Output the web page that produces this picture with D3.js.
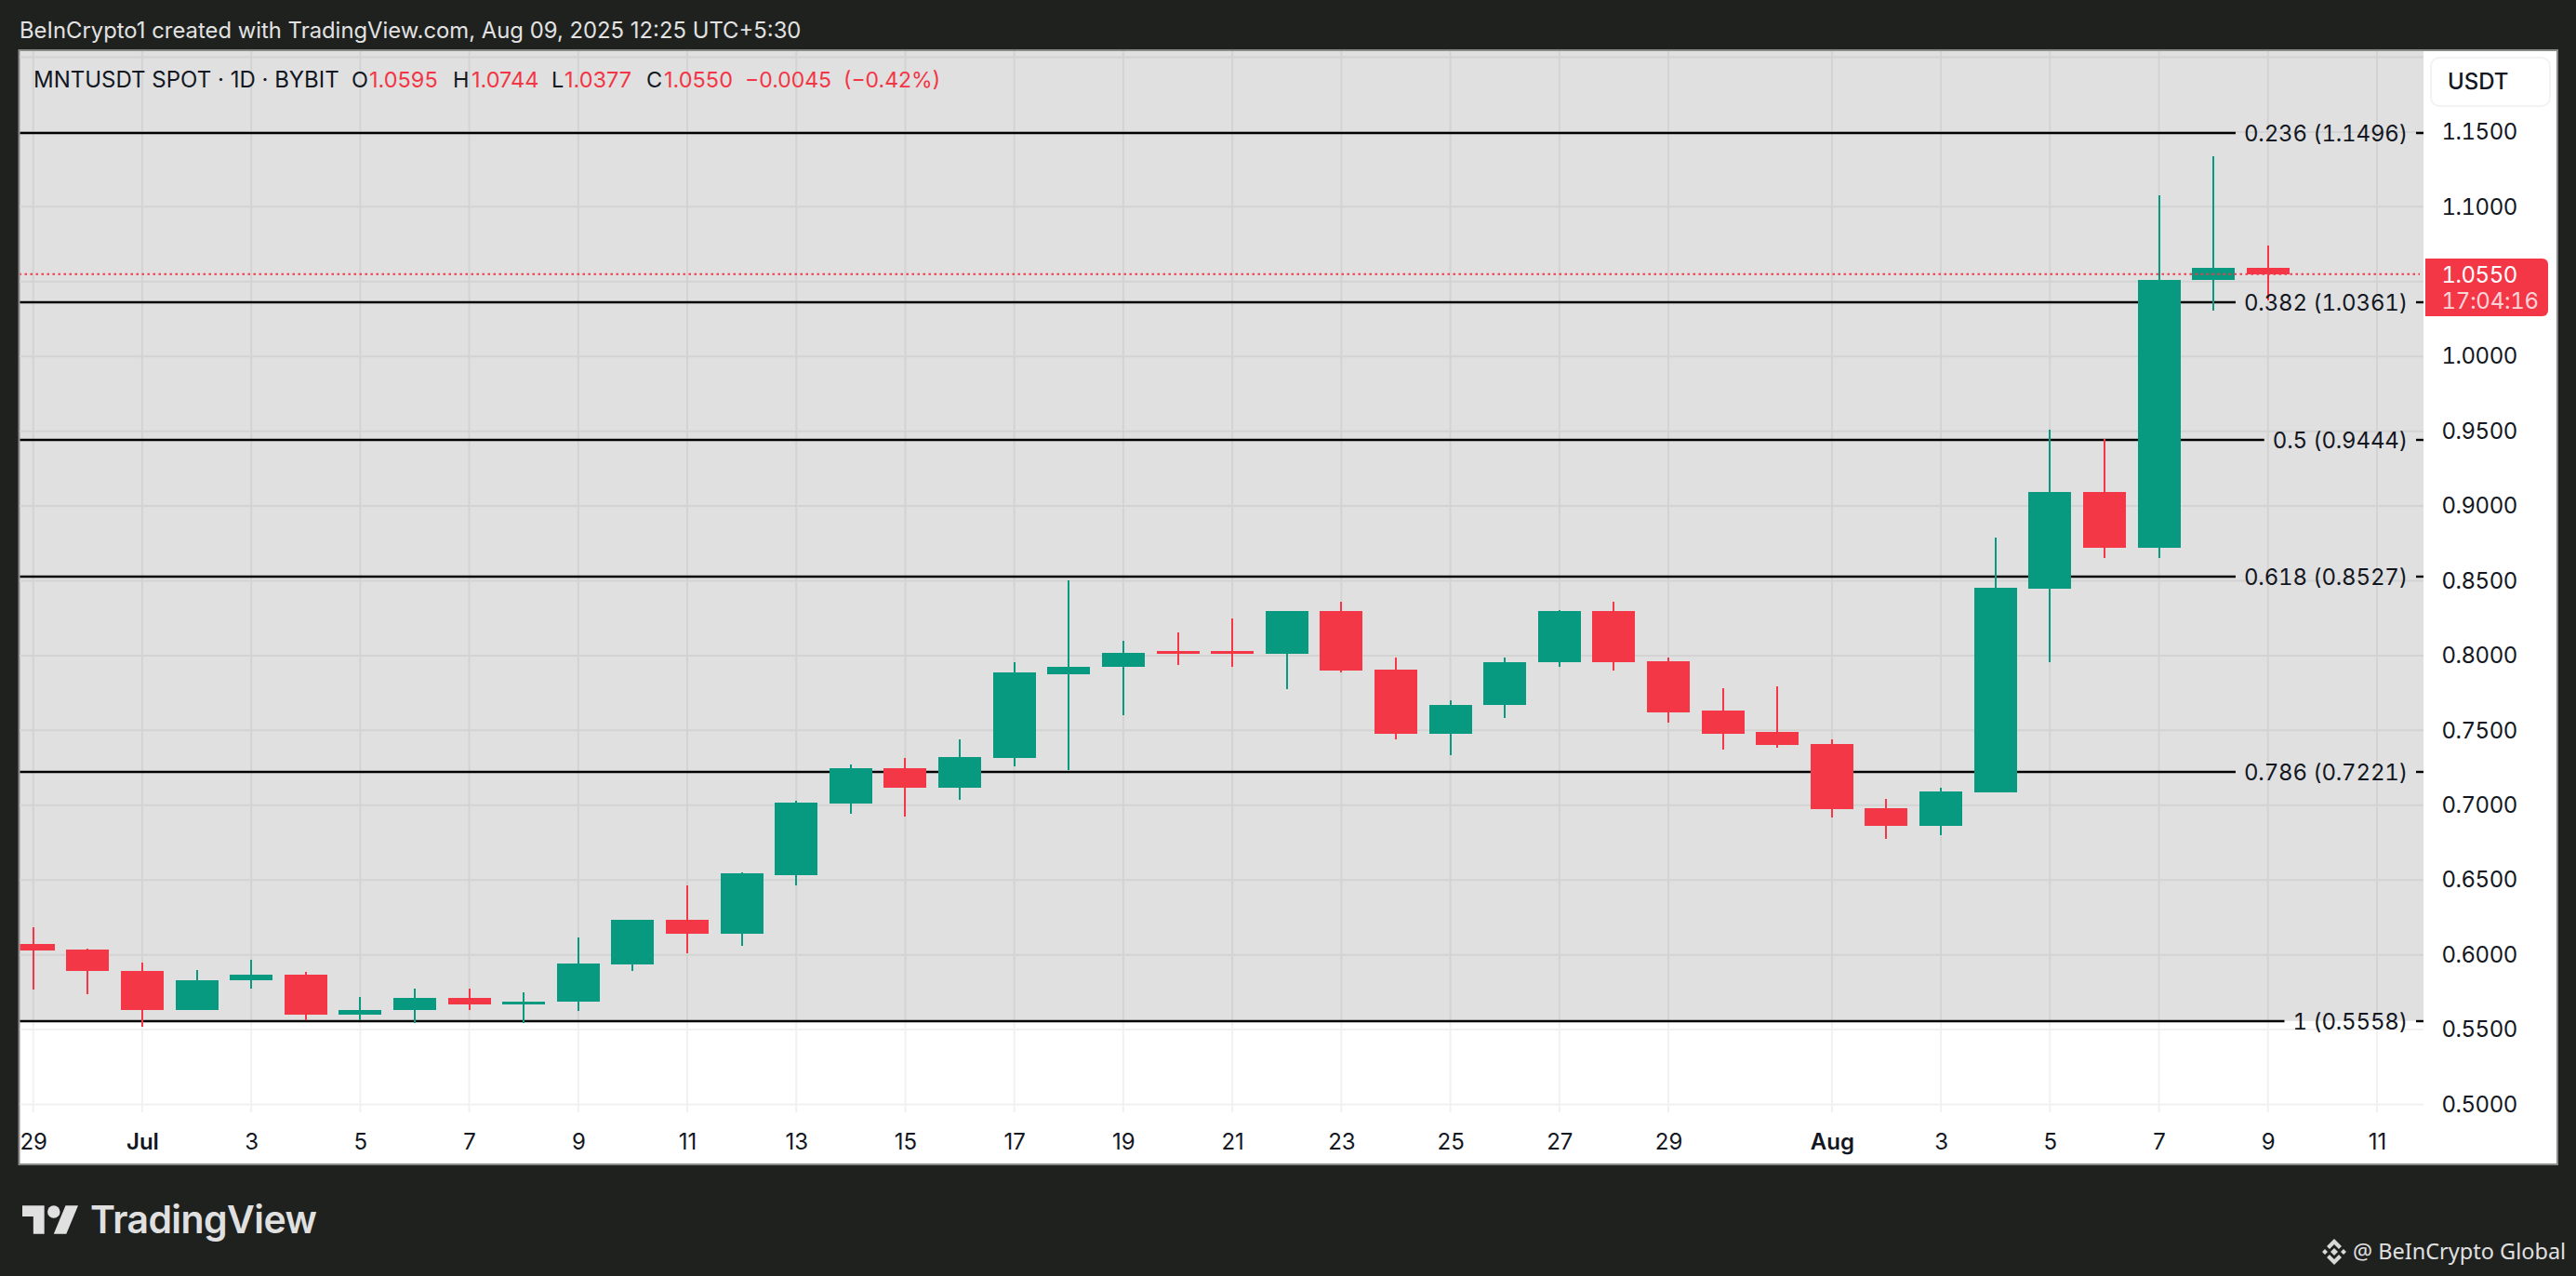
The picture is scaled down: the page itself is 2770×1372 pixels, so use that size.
<!DOCTYPE html>
<html><head><meta charset="utf-8">
<script src="https://cdnjs.cloudflare.com/ajax/libs/d3/7.9.0/d3.min.js"></script>
<style>html,body{margin:0;padding:0;background:#1f211f}svg{display:block}text{font-family:Inter,"Noto Sans",sans-serif}.tn{font-variant-numeric:tabular-nums;font-feature-settings:"tnum" 1}</style>
</head><body><svg id="c" width="2770" height="1372"></svg>
<script>
const candleDates=["2025-06-29","2025-06-30","2025-07-01","2025-07-02","2025-07-03","2025-07-04","2025-07-05","2025-07-06","2025-07-07","2025-07-08","2025-07-09","2025-07-10","2025-07-11","2025-07-12","2025-07-13","2025-07-14","2025-07-15","2025-07-16","2025-07-17","2025-07-18","2025-07-19","2025-07-20","2025-07-21","2025-07-22","2025-07-23","2025-07-24","2025-07-25","2025-07-26","2025-07-27","2025-07-28","2025-07-29","2025-07-30","2025-07-31","2025-08-01","2025-08-02","2025-08-03","2025-08-04","2025-08-05","2025-08-06","2025-08-07","2025-08-08","2025-08-09"];
const opens=[.6075,.6032,.5895,.5628,.5827,.5870,.5603,.5628,.5709,.5671,.5684,.5933,.6237,.6138,.6535,.7014,.7250,.7114,.7313,.7878,.7922,.8028,.8028,.8009,.8295,.7909,.7480,.7667,.7953,.8295,.7965,.7630,.7487,.7406,.6977,.6859,.7083,.8450,.9091,.8718,1.0508,1.0595];
const closes=[.6026,.5889,.5628,.5833,.5870,.5603,.5634,.5709,.5671,.5690,.5939,.6237,.6138,.6542,.7020,.7250,.7114,.7319,.7885,.7928,.8021,.8015,.8015,.8295,.7903,.7480,.7673,.7959,.8295,.7959,.7623,.7480,.7400,.6971,.6859,.7089,.8456,.9091,.8718,1.0514,1.0595,1.0550];
const highs=[.6187,.6044,.5945,.5901,.5964,.5883,.5715,.5771,.5771,.5752,.6113,.6237,.6461,.6548,.7027,.7275,.7313,.7437,.7953,.8506,.8102,.8152,.8251,.8295,.8363,.7990,.7704,.7990,.8307,.8363,.7990,.7779,.7797,.7443,.7045,.7114,.8792,.9513,.9451,1.1074,1.1335,1.0744];
const lows=[.5765,.5734,.5522,.5628,.5771,.5560,.5560,.5541,.5628,.5541,.5622,.5895,.6013,.6063,.6467,.6940,.6921,.7033,.7257,.7238,.7599,.7940,.7922,.7773,.7885,.7443,.7337,.7580,.7928,.7897,.7549,.7369,.7387,.6915,.6772,.6797,.7083,.7953,.8655,.8655,1.0309,1.0377];
const fibRatios=["0.236","0.382","0.5","0.618","0.786","1"];
const fibPrices=[1.1496,1.0361,.9444,.8527,.7221,.5558];
const priceTicks=[1.15,1.10,1.00,.95,.90,.85,.80,.75,.70,.65,.60,.55,.50];
const gridPrices=[1.20,1.15,1.10,1.05,1.00,.95,.90,.85,.80,.75,.70,.65,.60,.55,.50];
const dateTicks=["2025-06-29","2025-07-01","2025-07-03","2025-07-05","2025-07-07","2025-07-09","2025-07-11","2025-07-13","2025-07-15","2025-07-17","2025-07-19","2025-07-21","2025-07-23","2025-07-25","2025-07-27","2025-07-29","2025-08-01","2025-08-03","2025-08-05","2025-08-07","2025-08-09","2025-08-11"];
const lastPrice=1.0550, countdown="17:04:16";
const legendParts=[["MNTUSDT SPOT · 1D · BYBIT",36,"#131722",24],["O",378,"#131722",23.5],["1.0595",397,"#f23645",23.5],["H",487,"#131722",23.5],["1.0744",507,"#f23645",23.5],["L",593,"#131722",23.5],["1.0377",607,"#f23645",23.5],["C",695,"#131722",23.5],["1.0550",714,"#f23645",23.5],["−0.0045",801,"#f23645",23],["(−0.42%)",907,"#f23645",23]];

const UP="#089981",DOWN="#f43747",TXT="#131722";
const P={l:20.5,r:2606,t:55,b:1252,outerR:2750};
const pd=d3.utcParse("%Y-%m-%d");
const x=d3.scaleUtc().domain([pd("2025-06-29"),pd("2025-08-11")]).range([35.7,2556]);
const y=d3.scaleLinear().domain([.5,1.2]).range([1187.5,61.5]);
const svg=d3.select("#c");
svg.append("rect").attr("width",2770).attr("height",1372).attr("fill","#1f211f");
svg.append("text").attr("x",21).attr("y",41).attr("fill","#e2e2e2").attr("font-size",23.85)
  .text("BeInCrypto1 created with TradingView.com, Aug 09, 2025 12:25 UTC+5:30");
svg.append("rect").attr("x",P.l).attr("y",P.t-1).attr("width",P.outerR-P.l).attr("height",P.b-P.t+1)
  .attr("fill","#fff").attr("stroke","#8a8a8a").attr("stroke-width",2);
svg.append("clipPath").attr("id","plot").append("rect").attr("x",P.l+1).attr("y",P.t).attr("width",P.r-P.l-1).attr("height",P.b-P.t);
const plot=svg.append("g").attr("clip-path","url(#plot)");
// grid
plot.append("g").selectAll("line").data(gridPrices).join("line")
  .attr("x1",P.l).attr("x2",P.r).attr("y1",d=>y(d)).attr("y2",d=>y(d)).attr("stroke","#f1f1f1").attr("stroke-width",2);
plot.append("g").selectAll("line").data(dateTicks).join("line")
  .attr("x1",d=>x(pd(d))).attr("x2",d=>x(pd(d))).attr("y1",P.t).attr("y2",1196).attr("stroke","#f1f1f1").attr("stroke-width",2);
// fib fill
plot.append("rect").attr("x",P.l).attr("y",P.t).attr("width",P.r-P.l).attr("height",y(fibPrices[5])-P.t).attr("fill","rgba(0,0,0,0.12)");
// fib labels and lines
const fibG=plot.append("g");
const labelRight=2589;
fibPrices.forEach((p,i)=>{
  const yy=Math.round(y(p));
  const t=svg.append("text").attr("class","tn").attr("x",labelRight).attr("y",yy).attr("dy","0.36em").attr("text-anchor","end").attr("font-size",24).attr("letter-spacing",-.15).attr("fill",TXT).text(`${fibRatios[i]} (${p.toFixed(4)})`);
  const w=t.node().getComputedTextLength();
  fibG.append("line").attr("x1",P.l).attr("x2",labelRight-w-9).attr("y1",yy).attr("y2",yy).attr("stroke","#000").attr("stroke-width",2.4);
  fibG.append("line").attr("x1",labelRight+9).attr("x2",P.r).attr("y1",yy).attr("y2",yy).attr("stroke","#000").attr("stroke-width",2.4);
});
// candles
const idx=d3.range(candleDates.length);
const col=i=>closes[i]>=opens[i]?UP:DOWN;
plot.append("g").selectAll("rect").data(idx).join("rect")
  .attr("x",i=>Math.round(x(pd(candleDates[i])))-1).attr("width",2.2)
  .attr("y",i=>y(highs[i])).attr("height",i=>y(lows[i])-y(highs[i])).attr("fill",col).attr("shape-rendering","crispEdges");
plot.append("g").selectAll("rect").data(idx).join("rect")
  .attr("x",i=>Math.round(x(pd(candleDates[i])))-23).attr("width",46)
  .attr("y",i=>y(Math.max(opens[i],closes[i]))).attr("height",i=>Math.max(2,Math.abs(y(opens[i])-y(closes[i])))).attr("fill",col).attr("shape-rendering","crispEdges");
// last price line
plot.append("line").attr("x1",P.l).attr("x2",P.r-4).attr("y1",y(lastPrice)).attr("y2",y(lastPrice)).attr("stroke",DOWN).attr("stroke-width",2).attr("stroke-dasharray","2.5 3.5");
// axes
const yAxis=d3.axisRight(y).tickValues(priceTicks).tickSize(0).tickPadding(19.5).tickFormat(d3.format(".4f"));
const yg=svg.append("g").attr("transform",`translate(${P.r},0)`).call(yAxis);
yg.select(".domain").remove();
yg.selectAll("text").attr("class","tn").attr("font-size",24).attr("letter-spacing",-.5).attr("fill",TXT).style("font-family","Inter");
const xAxis=d3.axisBottom(x).tickValues(dateTicks.map(pd)).tickSize(0).tickPadding(0).tickFormat(d=>d.getUTCDate()===1?d3.utcFormat("%b")(d):String(d.getUTCDate()));
const xg=svg.append("g").attr("transform","translate(0,1218.5)").call(xAxis);
xg.select(".domain").remove();
xg.selectAll("text").attr("font-size",24).attr("fill",TXT).style("font-family","Inter").attr("font-weight",d=>d.getUTCDate()===1?600:400);
// legend
legendParts.forEach(([s,xx,c,fs])=>svg.append("text").attr("x",xx).attr("y",94).attr("font-size",fs).attr("fill",c).text(s));
// USDT button
svg.append("rect").attr("x",2614).attr("y",62).attr("width",128).attr("height",52).attr("rx",9).attr("fill","#fff").attr("stroke","#f2f3f5").attr("stroke-width",2);
svg.append("text").attr("x",2632).attr("y",96).attr("font-size",24).attr("font-weight",500).attr("fill",TXT).text("USDT");
// price label
const ly=y(lastPrice);
svg.append("path").attr("fill",DOWN).attr("d",(()=>{const p=d3.path();const a=2608,b=2740,t=278,c=340,r=6;p.moveTo(a,t);p.lineTo(b-r,t);p.arcTo(b,t,b,t+r,r);p.lineTo(b,c-r);p.arcTo(b,c,b-r,c,r);p.lineTo(a,c);p.closePath();return p.toString();})());
svg.append("text").attr("class","tn").attr("x",2625.5).attr("y",ly+1).attr("dy","0.36em").attr("font-size",24).attr("letter-spacing",-.5).attr("fill","#fff").text(d3.format(".4f")(lastPrice));
svg.append("text").attr("class","tn").attr("x",2625.5).attr("y",323).attr("dy","0.36em").attr("font-size",24).attr("letter-spacing",-.25).attr("fill","#fff").attr("fill-opacity",.8).text(countdown);
// footer logo
const logo=svg.append("g").attr("transform","translate(24,1289.5) scale(1.69)").attr("fill","#e0e0e0");
logo.append("path").attr("d","M14 22H7V11H0V4h14v18zM28 22h-8l7.5-18h8L28 22z");
logo.append("circle").attr("cx",20).attr("cy",8).attr("r",4);
svg.append("text").attr("x",97).attr("y",1326).attr("font-size",41).attr("font-weight",600).attr("letter-spacing",-.6).attr("fill","#e0e0e0").text("TradingView");
// binance mark
const bn=svg.append("g").attr("transform","translate(2510,1346)").attr("fill","#d8d8d8");
bn.append("path").attr("d","M0-14 L8-6 L5-3 L0-8 L-5-3 L-8-6Z M0 14 L8 6 L5 3 L0 8 L-5 3 L-8 6Z M0-4 L4 0 L0 4 L-4 0Z M-10-3 L-7 0 L-10 3 L-13 0Z M10-3 L13 0 L10 3 L7 0Z");
svg.append("text").attr("x",2530).attr("y",1354).attr("font-size",23.5).attr("fill","#e0e0e0").style("font-family","'Noto Sans'").text("@ BeInCrypto Global");
</script></body></html>
